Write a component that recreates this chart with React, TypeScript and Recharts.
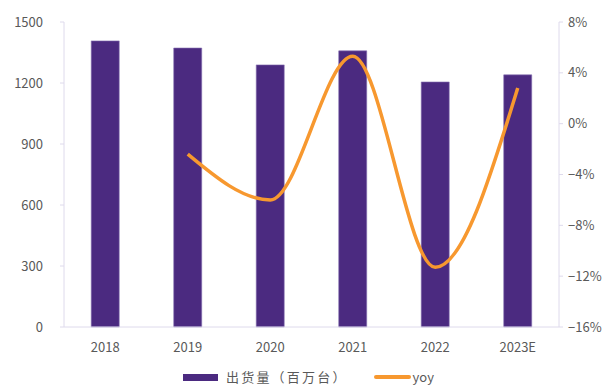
import { ComposedChart, Bar, Line, XAxis, YAxis, Legend } from "recharts";

if (typeof document !== "undefined") document.body.style.margin = "0";

const years = ["2018", "2019", "2020", "2021", "2022", "2023E"];
const shipments = [1407, 1372, 1289, 1358, 1205, 1240];
const yoy: (number | null)[] = [null, -2.4, -6.0, 5.3, -11.3, 2.8];

const leftTicks = [0, 300, 600, 900, 1200, 1500];
const rightTicks = [-16, -12, -8, -4, 0, 4, 8];

const PURPLE = "#4B2A80";
const ORANGE = "#F7982F";
const AXIS = "#DEDAEC";
const TEXT = "#595959";
const FONT = "'Noto Sans CJK SC', 'Noto Sans', sans-serif";

const data = years.map((y, i) => ({ year: y, shipments: shipments[i], yoy: yoy[i] }));

const fmtPct = (v: number) => (v < 0 ? `\u2212${Math.abs(v)}%` : `${v}%`);

function LegendBox() {
  return (
    <div style={{ display: "flex", alignItems: "center", height: 18, fontFamily: FONT, fontSize: 13, lineHeight: "18px", color: TEXT }}>
      <span style={{ display: "inline-block", width: 35, height: 7, background: PURPLE, marginRight: 8 }} />
      <span style={{ letterSpacing: 2.2 }}>出货量（百万台）</span>
      <span style={{ display: "inline-block", width: 37, height: 4, borderRadius: 2, background: ORANGE, marginLeft: 26, marginRight: 2 }} />
      <span>yoy</span>
    </div>
  );
}

export default function App() {
  return (
    <ComposedChart width={606} height={385} data={data} margin={{ top: 22, right: 0, left: 0, bottom: 10 }} barCategoryGap="33%">
      <XAxis
        dataKey="year"
        stroke={AXIS}
        tickLine={false}
        tick={{ fill: TEXT, fontSize: 13, fontFamily: FONT }}
        tickMargin={10}
        height={30}
      />
      <YAxis
        yAxisId="left"
        width={64}
        domain={[0, 1500]}
        ticks={leftTicks}
        stroke={AXIS}
        tickSize={4}
        tickMargin={17}
        tick={{ fill: TEXT, fontSize: 13, fontFamily: FONT }}
      />
      <YAxis
        yAxisId="right"
        orientation="right"
        width={47}
        domain={[-16, 8]}
        ticks={rightTicks}
        tickFormatter={fmtPct}
        stroke={AXIS}
        tickSize={4}
        tickMargin={5}
        tick={{ fill: TEXT, fontSize: 13, fontFamily: FONT }}
      />
      <Legend
        verticalAlign="bottom"
        content={() => <LegendBox />}
        wrapperStyle={{ left: 183, top: 368, width: 300, height: 18 }}
      />
      <Bar yAxisId="left" dataKey="shipments" name="出货量（百万台）" fill={PURPLE} stroke="#8471B0" strokeWidth={0.6} isAnimationActive={false} />
      <Line
        yAxisId="right"
        type="monotone"
        dataKey="yoy"
        name="yoy"
        stroke={ORANGE}
        strokeWidth={3.5}
        dot={false}
        activeDot={false}
        connectNulls={false}
        isAnimationActive={false}
      />
    </ComposedChart>
  );
}
